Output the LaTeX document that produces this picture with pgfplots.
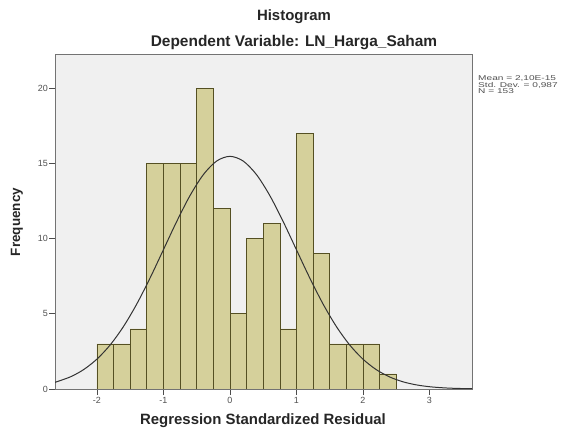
\documentclass[border=0pt]{standalone}
\usepackage{pgfplots}
\pgfplotsset{compat=1.18}
\usepackage{fontspec}
\setmainfont{Liberation Sans}
\definecolor{barfill}{RGB}{213,208,155}
\definecolor{baredge}{RGB}{85,80,35}
\definecolor{plotbg}{RGB}{240,240,240}
\definecolor{tickgray}{RGB}{80,80,80}
\begin{document}
\begin{tikzpicture}
\useasboundingbox (0,0) rectangle (561bp,429bp);
\begin{axis}[
  at={(55bp,40bp)}, anchor=south west,
  scale only axis, width=417bp, height=335bp,
  xmin=-2.63, xmax=3.64, ymin=0, ymax=22.26,
  xtick={-2,-1,0,1,2,3},
  ytick={0,5,10,15,20},
  tick align=outside, tick pos=left,
  major tick length=6bp,
  axis background/.style={fill=plotbg},
  axis line style={draw=black!55, line width=0.9pt},
  tick style={draw=black!70, line width=0.6pt},
  ticklabel style={font=\fontsize{9}{10}\selectfont, text=tickgray},
  yticklabel style={inner sep=1bp},
  xticklabel style={inner sep=2bp},
  /pgf/number format/assume math mode=true,
  clip=true,
]
\addplot[ybar interval, fill=barfill, draw=baredge, line width=0.6pt] coordinates {
(-2,3) (-1.75,3) (-1.5,4) (-1.25,15) (-1,15) (-0.75,15) (-0.5,20) (-0.25,12)
(0,5) (0.25,10) (0.5,11) (0.75,4) (1,17) (1.25,9) (1.5,3) (1.75,3) (2,3) (2.25,1) (2.5,1)
};
\addplot[smooth, draw=black!80, line width=1pt] coordinates {
(-2.63,0.444) (-2.4,0.804) (-2.2,1.288) (-2.0,1.984) (-1.8,2.930) (-1.6,4.154)
(-1.4,5.652) (-1.2,7.382) (-1.0,9.253) (-0.8,11.131) (-0.6,12.852) (-0.4,14.242)
(-0.2,15.146) (0,15.46) (0.2,15.146) (0.4,14.242) (0.6,12.852) (0.8,11.131)
(1.0,9.253) (1.2,7.382) (1.4,5.652) (1.6,4.154) (1.8,2.930) (2.0,1.984)
(2.2,1.288) (2.4,0.804) (2.6,0.481) (2.8,0.276) (3.0,0.152) (3.2,0.081)
(3.4,0.041) (3.64,0.017)
};
\end{axis}
\node[font=\bfseries\fontsize{15}{17}\selectfont, text=black!85] at (294bp,412bp) {Histogram};
\node[font=\bfseries\fontsize{15.5}{17}\selectfont, text=black!85] at (294bp,386bp) {Dependent Variable: LN\_Harga\_Saham};
\node[font=\bfseries\fontsize{15}{17}\selectfont, text=black!85] at (263bp,8bp) {Regression Standardized Residual};
\node[font=\bfseries\fontsize{13.5}{15}\selectfont, text=black!85, rotate=90] at (17bp,207bp) {Frequency};
\node[anchor=west, text=tickgray, font=\fontsize{7}{6.5}\selectfont, align=left, inner sep=0pt] at (478bp,344bp)
  {\scalebox{1.45}[1]{Mean = 2,10E-15}\\ \scalebox{1.45}[1]{Std. Dev. = 0,987}\\ \scalebox{1.45}[1]{N = 153}};
\end{tikzpicture}
\end{document}
